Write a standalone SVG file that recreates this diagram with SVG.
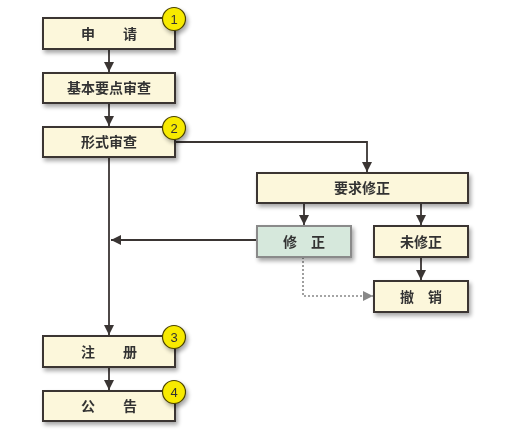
<svg xmlns="http://www.w3.org/2000/svg" width="520" height="441" viewBox="0 0 520 441">
<style>
.box{fill:#fcf7db;stroke:#3a3533;stroke-width:2}
.gbox{fill:#d6e8dc;stroke:#8a8a8a;stroke-width:2}
.lbl{font-family:"Noto Sans CJK SC","Noto Sans CJK JP",sans-serif;font-size:14px;font-weight:bold;fill:#333;text-anchor:middle}
.num{font-family:"Liberation Sans",Arial,sans-serif;font-size:13px;fill:#333;text-anchor:middle}
.ln{fill:none;stroke:#3a3533;stroke-width:1.8}
.dot{fill:none;stroke:#888;stroke-width:1.6;stroke-dasharray:2 2}
.badge{fill:#f7ea00;stroke:#4a4200;stroke-width:1.2}
</style>
<defs>
<filter id="sh" x="-20%" y="-30%" width="150%" height="180%">
<feGaussianBlur in="SourceAlpha" stdDeviation="2"/>
<feOffset dx="2" dy="3" result="b"/>
<feComponentTransfer><feFuncA type="linear" slope="0.35"/></feComponentTransfer>
<feMerge><feMergeNode/><feMergeNode in="SourceGraphic"/></feMerge>
</filter>
<marker id="ah" viewBox="0 0 10 10" refX="10" refY="5" markerWidth="10" markerHeight="10" markerUnits="userSpaceOnUse" orient="auto"><path d="M0,0 L10,5 L0,10 z" fill="#3a3533"/></marker>
<marker id="ahg" viewBox="0 0 10 10" refX="10" refY="5" markerWidth="10" markerHeight="10" markerUnits="userSpaceOnUse" orient="auto"><path d="M0,0 L10,5 L0,10 z" fill="#888"/></marker>
</defs>
<g id="connectors">
<line class="ln" x1="109" y1="49" x2="109" y2="72" marker-end="url(#ah)"/>
<line class="ln" x1="109" y1="103" x2="109" y2="126" marker-end="url(#ah)"/>
<polyline class="ln" points="175,142 367,142 367,172" marker-end="url(#ah)"/>
<line class="ln" x1="109" y1="157" x2="109" y2="335" marker-end="url(#ah)"/>
<line class="ln" x1="109" y1="367" x2="109" y2="390" marker-end="url(#ah)"/>
<line class="ln" x1="304" y1="203" x2="304" y2="225" marker-end="url(#ah)"/>
<line class="ln" x1="421" y1="203" x2="421" y2="225" marker-end="url(#ah)"/>
<line class="ln" x1="421" y1="257" x2="421" y2="280" marker-end="url(#ah)"/>
<line class="ln" x1="257" y1="240" x2="111" y2="240" marker-end="url(#ah)"/>
<polyline class="dot" points="303,257 303,296 373,296" marker-end="url(#ahg)"/>
</g>
<g id="n1" filter="url(#sh)"><rect class="box" x="43" y="18" width="132" height="31"/><text class="lbl" x="109" y="39">申　　请</text></g>
<g id="n2" filter="url(#sh)"><rect class="box" x="43" y="73" width="132" height="30"/><text class="lbl" x="109" y="93">基本要点审查</text></g>
<g id="n3" filter="url(#sh)"><rect class="box" x="43" y="127" width="132" height="30"/><text class="lbl" x="109" y="147">形式审查</text></g>
<g id="n4" filter="url(#sh)"><rect class="box" x="257" y="173" width="211" height="30"/><text class="lbl" x="362" y="193">要求修正</text></g>
<g id="n5" filter="url(#sh)"><rect class="gbox" x="257" y="226" width="94" height="31"/><text class="lbl" x="304" y="247">修　正</text></g>
<g id="n6" filter="url(#sh)"><rect class="box" x="374" y="226" width="94" height="31"/><text class="lbl" x="421" y="247">未修正</text></g>
<g id="n7" filter="url(#sh)"><rect class="box" x="374" y="281" width="94" height="31"/><text class="lbl" x="421" y="302">撤　销</text></g>
<g id="n8" filter="url(#sh)"><rect class="box" x="43" y="336" width="132" height="31"/><text class="lbl" x="109" y="357">注　　册</text></g>
<g id="n9" filter="url(#sh)"><rect class="box" x="43" y="391" width="132" height="30"/><text class="lbl" x="109" y="411">公　　告</text></g>
<g id="b1" filter="url(#sh)"><circle class="badge" cx="174" cy="19" r="11.5"/><text class="num" x="174" y="24">1</text></g>
<g id="b2" filter="url(#sh)"><circle class="badge" cx="174" cy="128" r="11.5"/><text class="num" x="174" y="133">2</text></g>
<g id="b3" filter="url(#sh)"><circle class="badge" cx="174" cy="337" r="11.5"/><text class="num" x="174" y="342">3</text></g>
<g id="b4" filter="url(#sh)"><circle class="badge" cx="174" cy="392" r="11.5"/><text class="num" x="174" y="397">4</text></g>
</svg>
